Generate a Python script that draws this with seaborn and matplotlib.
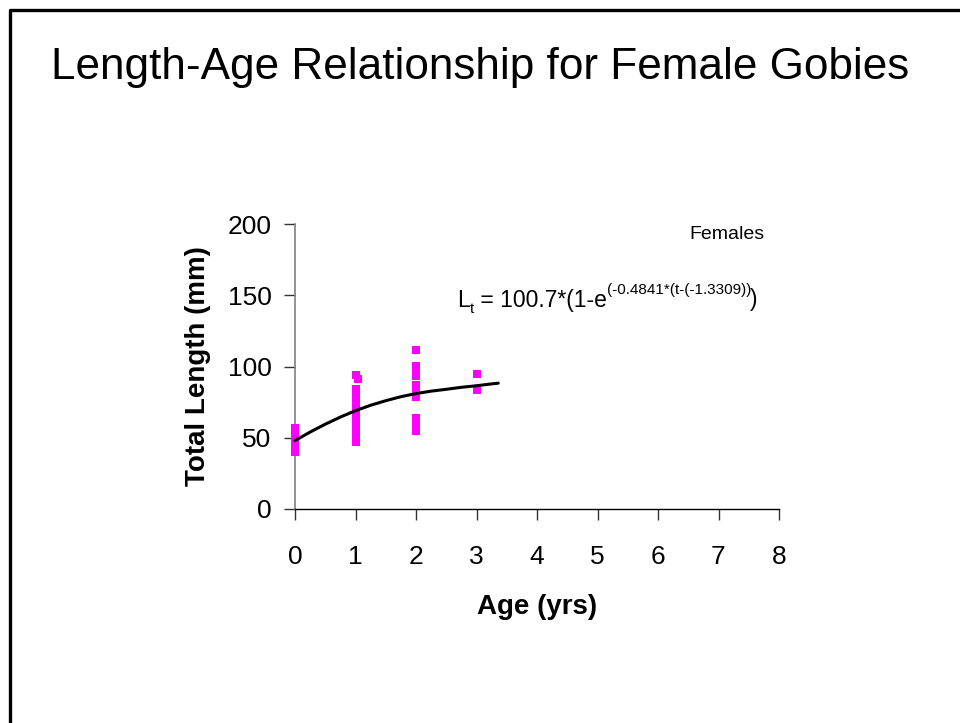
import matplotlib
matplotlib.use("Agg")
import matplotlib.pyplot as plt
import seaborn as sns
import pandas as pd
from matplotlib.lines import Line2D

ages_0 = [0, 0, 0, 0, 0, 0, 0, 0]
len_0 = [40, 42.5, 45, 47.5, 50, 52.5, 55, 57]
ages_1 = [1] * 16 + [1.0, 1.04]
len_1 = [47, 49.5, 52, 54.5, 57, 59.5, 62, 64.5, 67, 69.5, 72, 74.5, 77, 79.5, 82, 84, 94, 91]
ages_2 = [2] * 15
len_2 = [111.5, 100.5, 98, 95.5, 93.5, 87, 84.5, 82, 80, 78.5, 64, 61.5, 59, 57, 55]
ages_3 = [3, 3]
len_3 = [95, 83.5]

# von Bertalanffy fit line
fit_age = [0, 0.25, 0.5, 0.75, 1, 1.25, 1.5, 1.75, 2, 2.25, 2.5, 2.75, 3, 3.25, 3.36]
fit_len = [48, 54, 59.5, 64.5, 69, 72.8, 76, 78.8, 81, 82.7, 84, 85.4, 86.5, 87.8, 88.3]

x_ticks = [0, 1, 2, 3, 4, 5, 6, 7, 8]
y_ticks = [0, 50, 100, 150, 200]

df = pd.DataFrame({
    "age": ages_0 + ages_1 + ages_2 + ages_3,
    "length": len_0 + len_1 + len_2 + len_3,
})
fit = pd.DataFrame({"age": fit_age, "length": fit_len})

sns.set_style("white")
plt.rcParams["font.family"] = ["Liberation Sans", "DejaVu Sans"]
plt.rcParams["text.color"] = "black"
plt.rcParams["axes.labelcolor"] = "black"

fig = plt.figure(figsize=(9.6, 7.23), dpi=100)
ax = fig.add_axes([295 / 960, 1 - 509 / 723, (779 - 295) / 960, (509 - 224) / 723])

sns.scatterplot(data=df, x="age", y="length", ax=ax, marker="s", s=28,
                color="#FF00FF", linewidth=0, clip_on=False, zorder=3)
sns.lineplot(data=fit, x="age", y="length", ax=ax, color="black",
             linewidth=2.2, zorder=4, clip_on=False)

ax.set_xlim(0, 8)
ax.set_ylim(0, 200)
ax.set_xticks(x_ticks)
ax.set_yticks(y_ticks)
ax.tick_params(axis="both", which="major", direction="out", length=8,
               width=1, color="#333333", labelsize=19, labelcolor="black",
               bottom=True, left=True)
ax.tick_params(axis="x", pad=18)
ax.tick_params(axis="y", pad=9)

for side in ["top", "right"]:
    ax.spines[side].set_visible(False)
ax.spines["left"].set_color("#808080")
ax.spines["left"].set_linewidth(1.2)
ax.spines["bottom"].set_color("black")
ax.spines["bottom"].set_linewidth(1.0)
ax.set_facecolor("white")

ax.set_xlabel("Age (yrs)", fontsize=20, fontweight="bold", labelpad=18)
ax.set_ylabel("Total Length (mm)", fontsize=20, fontweight="bold", labelpad=12)

fig.text(0.5, 1 - 67 / 723, "Length-Age Relationship for Female Gobies",
         ha="center", va="center", fontsize=31.8)

ax.text(689 / 960, 1 - 239 / 723, "Females", transform=fig.transFigure,
        fontsize=14, ha="left", va="baseline")

# fitted equation, built from pieces so the hyphens stay plain
eq_x = (457 - 295) / (779 - 295) * 8
eq_y = (509 - 307) / (509 - 224) * 200
t_L = ax.text(eq_x, eq_y, "L", fontsize=16.5, ha="left", va="baseline")
t_sub = ax.annotate("t", xy=(1, 0), xycoords=t_L, xytext=(0, -3),
                    textcoords="offset points", fontsize=11, ha="left", va="bottom")
t_main = ax.annotate(" = 100.7*(1-e", xy=(1, 0), xycoords=(t_sub, t_L),
                     fontsize=16.5, ha="left", va="bottom")
t_sup = ax.annotate("(-0.4841*(t-(-1.3309))", xy=(1, 1), xycoords=t_main,
                    xytext=(0, -6), textcoords="offset points",
                    fontsize=11, ha="left", va="bottom")
ax.annotate(")", xy=(1, 0), xycoords=(t_sup, t_main), xytext=(-1, 1),
            textcoords="offset points", fontsize=16.5, ha="left", va="bottom")

# slide frame on the top and left edges
fig.add_artist(Line2D([9.5 / 960, 9.5 / 960, 1.0], [0.0, 1 - 9.5 / 723, 1 - 9.5 / 723],
                      transform=fig.transFigure, color="black", linewidth=2.4))

fig.savefig("out.png", dpi=100, facecolor="white")
